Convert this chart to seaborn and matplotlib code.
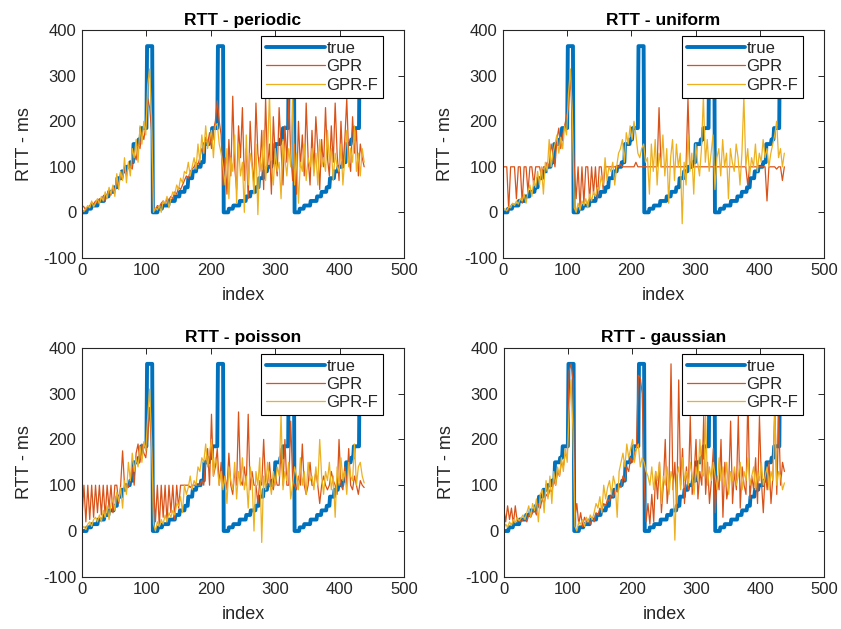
import numpy as np
import pandas as pd
import matplotlib
matplotlib.use("Agg")
import matplotlib.pyplot as plt
import seaborn as sns

# ---------------- data ----------------
# true RTT: staircase ramp inside each ~110-sample cycle, then a 365 ms plateau
TRUE_LEVELS = [0, 8, 15, 25, 35, 45, 55, 75, 90, 100, 110, 150, 160, 185, 365]
TRUE_LENGTHS = [8, 7, 10, 10, 7, 8, 5, 7, 6, 7, 5, 8, 4, 9, 9]
N_CYCLES = 4

# estimates are sampled every 3 indices (0, 3, ..., 438)
EST_STEP = 3
EST_LEN = 147

periodic_gpr = [
    15, 12, 5, 10, 14, 22, 18, 25, 20, 30,
    28, 35, 25, 40, 45, 38, 55, 50, 70, 60,
    85, 75, 95, 80, 105, 100, 95, 130, 115, 150,
    140, 175, 160, 190, 250, 230, 180, 10, 5, 15,
    12, 20, 25, 18, 30, 28, 35, 30, 45, 40,
    55, 50, 60, 70, 80, 75, 90, 95, 100, 110,
    105, 120, 140, 130, 165, 150, 175, 140, 180, 200,
    245, 200, 170, 60, 120, 40, 160, 80, 255, 100,
    50, 190, 120, 230, 70, 140, 30, 200, 110, 60,
    240, 130, 90, 180, 50, 250, 100, 150, 40, 210,
    120, 80, 230, 140, 60, 190, 110, 250, 130, 70,
    150, 40, 200, 100, 170, 80, 240, 120, 60, 180,
    90, 210, 140, 50, 160, 100, 230, 120, 80, 190,
    110, 240, 130, 70, 200, 100, 160, 250, 120, 90,
    210, 130, 180, 80, 150, 120, 100]
periodic_gprf = [
    5, 2, 8, 15, 10, 25, 12, 20, 30, 18,
    35, 25, 45, 30, 55, 40, 60, 35, 85, 50,
    90, 70, 120, 65, 110, 80, 140, 120, 160, 110,
    190, 150, 200, 170, 280, 315, 210, 0, 10, 5,
    15, 0, 25, 20, 35, 10, 30, 45, 40, 60,
    50, 75, 65, 90, 85, 110, 80, 100, 120, 95,
    150, 110, 170, 130, 190, 140, 160, 180, 120, 190,
    195, 150, 130, 100, 60, 140, 30, 120, 90, 170,
    20, 150, 80, 110, 0, 170, 60, 130, 100, 40,
    150, -5, 120, 90, 180, 70, 130, 260, 100, 60,
    140, 90, 110, 30, 160, 120, 80, 140, 100, 260,
    60, 130, 20, 110, 90, 150, 70, 120, 100, 140,
    80, 130, 60, 160, 100, 120, 90, 180, 110, 140,
    70, 130, 100, 90, 150, 60, 120, 180, 100, 140,
    110, 190, 90, 130, 80, 140, 110]

uniform_gpr = [
    100, 100, 100, 5, 100, 100, 100, 30, 100, 100,
    20, 100, 100, 45, 100, 100, 60, 100, 100, 100,
    80, 100, 100, 110, 100, 150, 130, 100, 160, 185,
    140, 170, 190, 210, 230, 300, 200, 100, 30, 100,
    10, 100, 20, 100, 100, 25, 100, 40, 100, 30,
    100, 100, 50, 100, 100, 100, 100, 100, 100, 100,
    100, 105, 100, 100, 100, 100, 100, 100, 100, 110,
    100, 100, 100, 100, 100, 100, 100, 100, 100, 100,
    100, 230, 100, 100, 100, 100, 100, 100, 100, 100,
    100, 100, 100, 100, 100, 100, 250, 100, 100, 100,
    100, 100, 100, 100, 100, 100, 100, 100, 100, 100,
    100, 100, 100, 100, 100, 100, 100, 100, 100, 100,
    100, 100, 100, 100, 100, 100, 100, 60, 100, 100,
    100, 100, 100, 100, 100, 100, 100, 25, 100, 100,
    100, 100, 95, 100, 100, 70, 100]
uniform_gprf = [
    5, 8, 3, 12, 10, 20, 15, 25, 18, 30,
    25, 40, 20, 45, 60, 35, 70, 55, 90, 60,
    100, 40, 110, 90, 160, 100, 130, 150, 170, 130,
    165, 140, 190, 170, 260, 315, 220, 10, 0, 20,
    5, 25, 15, 30, 10, 40, 25, 45, 35, 55,
    50, 80, 60, 120, 70, 100, 90, 110, 60, 100,
    130, 140, 160, 110, 175, 150, 190, 160, 200, 170,
    130, 120, 140, 150, 110, 120, 40, 150, 90, 160,
    60, 130, 100, 170, 80, 140, 20, 120, 160, 70,
    150, 100, 130, -25, 110, 60, 170, 90, 130, 40,
    150, 110, 80, 140, 255, 110, 160, 90, 130, 170,
    50, 120, 140, 80, 160, 100, 130, 30, 140, 110,
    90, 150, 120, 60, 130, 255, 100, 140, 80, 120,
    100, 150, 90, 130, 110, 160, 120, 140, 100, 130,
    150, 170, 200, 120, 140, 100, 130]

poisson_gpr = [
    30, 100, 20, 100, 25, 100, 30, 100, 40, 100,
    35, 100, 30, 100, 50, 100, 40, 100, 100, 60,
    100, 175, 100, 100, 95, 110, 140, 100, 170, 190,
    150, 190, 170, 160, 200, 270, 180, 100, 20, 100,
    10, 100, 30, 100, 20, 100, 40, 100, 25, 100,
    50, 100, 100, 100, 100, 100, 95, 100, 100, 100,
    100, 100, 110, 100, 150, 180, 100, 255, 120, 140,
    180, 100, 150, 100, 120, 90, 170, 100, 80, 130,
    100, 260, 110, 100, 140, 100, 255, 90, 130, 100,
    100, 60, 110, 100, 200, 100, 100, 150, 100, 90,
    120, 100, 100, 180, 100, 200, 100, 100, 240, 110,
    100, 90, 120, 100, 190, 100, 80, 100, 150, 100,
    100, 130, 100, 60, 100, 120, 100, 90, 100, 130,
    110, 100, 80, 200, 100, 90, 140, 100, 180, 100,
    90, 120, 100, 80, 110, 100, 95]
poisson_gprf = [
    5, 10, 3, 15, 20, 10, 25, 30, 20, 35,
    20, 45, 30, 55, 25, 60, 70, 45, 85, 65,
    95, 50, 110, 80, 150, 110, 170, 130, 160, 140,
    185, 150, 195, 175, 250, 310, 200, 15, 0, 20,
    10, 25, 15, 35, 20, 40, 30, 45, 35, 60,
    55, 75, 40, 100, 80, 95, 120, 90, 110, 100,
    140, 130, 160, 150, 190, 140, 170, 200, 120, 160,
    140, 100, 130, 90, 120, 60, 140, 110, 90, 150,
    70, 130, 100, 160, 90, 120, 50, 140, 110, 0,
    130, 100, 160, -25, 120, 90, 150, 110, 80, 130,
    100, 140, 120, 255, 90, 130, 110, 150, 70, 100,
    140, 120, 90, 160, 100, 130, 80, 150, 110, 120,
    90, 140, 100, 200, 120, 80, 130, 110, 150, 90,
    120, 30, 140, 100, 160, 110, 130, 80, 150, 120,
    110, 190, 100, 140, 150, 120, 105]

gaussian_gpr = [
    50, 20, 55, 25, 50, 15, 55, 20, 25, 20,
    25, 30, 20, 35, 30, 40, 45, 35, 60, 50,
    70, 60, 80, 75, 90, 85, 110, 100, 130, 120,
    150, 140, 170, 160, 350, 365, 330, 30, 60, 15,
    40, 10, 30, 20, 25, 15, 30, 20, 40, 35,
    50, 45, 60, 55, 70, 65, 80, 75, 90, 85,
    100, 95, 120, 110, 140, 130, 160, 150, 170, 180,
    340, 335, 300, 110, 20, 60, 15, 80, 20, 130,
    70, 150, 40, 100, 200, 60, 110, 365, 90, 150,
    50, 330, 100, 180, 60, 140, 90, 250, 80, 120,
    200, 70, 130, 100, 250, 80, 150, 60, 110, 180,
    40, 120, 90, 200, 30, 150, 70, 100, 240, 60,
    130, 90, 250, 50, 140, 100, 80, 300, 70, 120,
    90, 160, 60, 250, 110, 40, 130, 90, 150, 60,
    120, 280, 80, 250, 100, 150, 130]
gaussian_gprf = [
    5, 15, 8, 20, 12, 25, 18, 30, 22, 28,
    35, 25, 40, 55, 30, 60, 45, 70, 20, 80,
    90, 40, 110, 70, 120, 60, 130, 100, 140, 120,
    160, 130, 180, 150, 260, 330, 220, 10, 0, 20,
    15, 25, 10, 30, 20, 35, 25, 40, 60, 50,
    75, 40, 100, 70, 95, 110, 80, 120, 100, 30,
    130, 150, 170, 140, 190, 160, 180, 200, 150, 180,
    190, 140, 160, 150, 130, 120, 100, 140, 90, 130,
    110, 150, 60, 120, 100, 140, 80, 130, 110, -20,
    120, 140, 90, 160, 110, 130, 100, 150, 120, 80,
    140, 110, 200, 130, 120, 250, 100, 140, 110, 150,
    120, 90, 160, 110, 140, 100, 150, 80, 130, 110,
    140, 100, 120, 150, 90, 130, 110, 160, 100, 120,
    140, 90, 130, 110, 150, 100, 120, 140, 90, 130,
    110, 260, 100, 130, 120, 90, 105]

PANELS = ["periodic", "uniform", "poisson", "gaussian"]
GPR = [periodic_gpr, uniform_gpr, poisson_gpr, gaussian_gpr]
GPRF = [periodic_gprf, uniform_gprf, poisson_gprf, gaussian_gprf]

# ---------------- style ----------------
sns.set_theme(style="white")
plt.rcParams["font.family"] = ["Liberation Sans", "DejaVu Sans"]
plt.rcParams["axes.unicode_minus"] = False
C_TRUE, C_GPR, C_GPRF = "#0072BD", "#D95319", "#EDB120"
TXT = "#262626"

true_cycle = np.repeat(TRUE_LEVELS, TRUE_LENGTHS)
true_vals = np.tile(true_cycle, N_CYCLES)
true_idx = np.arange(len(true_vals))
est_idx = np.arange(EST_LEN) * EST_STEP

fig = plt.figure(figsize=(8.41, 6.29), dpi=100)
positions = [
    (0.0975, 0.590, 0.383, 0.362),
    (0.598, 0.590, 0.382, 0.362),
    (0.0975, 0.083, 0.383, 0.364),
    (0.599, 0.083, 0.381, 0.364),
]

for k, name in enumerate(PANELS):
    ax = fig.add_axes(positions[k])
    sns.lineplot(x=true_idx, y=true_vals, ax=ax, color=C_TRUE, linewidth=2.8,
                 label="true", sort=False, solid_joinstyle="round")
    sns.lineplot(x=est_idx, y=GPR[k], ax=ax, color=C_GPR, linewidth=0.9,
                 label="GPR", sort=False)
    sns.lineplot(x=est_idx, y=GPRF[k], ax=ax, color=C_GPRF, linewidth=0.9,
                 label="GPR-F", sort=False)
    ax.set_xlim(0, 500)
    ax.set_ylim(-100, 400)
    ax.set_xticks(range(0, 501, 100))
    ax.set_yticks(range(-100, 401, 100))
    ax.set_title(f"RTT - {name}", fontsize=12.5, fontweight="bold", color="black", pad=4)
    ax.set_xlabel("index", fontsize=13, color=TXT, labelpad=6)
    ax.set_ylabel("RTT - ms", fontsize=13, color=TXT, labelpad=7)
    ax.tick_params(direction="in", length=4, width=0.7, top=True, right=True,
                   labelsize=12, colors=TXT, pad=4)
    ax.tick_params(axis="both", labelcolor=TXT)
    for s in ax.spines.values():
        s.set_color(TXT)
        s.set_linewidth(0.8)
    leg = ax.legend(loc="upper right", bbox_to_anchor=(0.935, 0.975), fontsize=12,
                    frameon=True, fancybox=False, edgecolor="black", framealpha=1,
                    handlelength=3.5, borderpad=0.3, labelspacing=0.2,
                    handletextpad=0.1, borderaxespad=0)
    leg.get_frame().set_linewidth(0.8)
    for t in leg.get_texts():
        t.set_color(TXT)

fig.savefig("out.png", dpi=100)
